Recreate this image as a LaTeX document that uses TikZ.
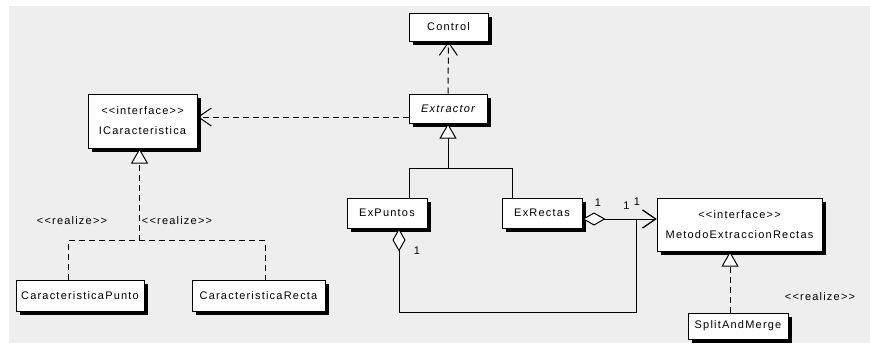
\documentclass[tikz,border=0pt]{standalone}
\usepackage{fontspec}
\setmainfont{Liberation Sans}
\newfontfamily\umlfont[LetterSpace=11]{Liberation Sans}
\usetikzlibrary{arrows.meta,shadows,calc}
\definecolor{canvas}{HTML}{EEEEEE}

\begin{document}
\begin{tikzpicture}[x=1pt,y=-1pt,
  every node/.style={font=\umlfont\fontsize{11pt}{20pt}\selectfont, inner sep=0pt},
  umlbox/.style={draw=black, line width=1pt, fill=white, align=center,
    drop shadow={shadow xshift=3.5pt, shadow yshift=-3.5pt, fill=black, opacity=1}},
  lbl/.style={text=black},
  conn/.style={draw=black, line width=1pt},
  dep/.style={conn, dash pattern=on 6pt off 4pt, -{Straight Barb[length=13pt,width=18pt,line width=1pt]}},
  gen/.style={conn, -{Triangle[length=15pt,width=17pt,fill=white,line width=1pt]}},
  real/.style={gen, dash pattern=on 6pt off 4pt},
  realline/.style={conn, dash pattern=on 6pt off 4pt},
  aggr/.style={conn, {Diamond[length=23pt,width=13pt,fill=white,line width=1pt]}-{Straight Barb[length=13pt,width=18pt,line width=1pt]}}
]
\useasboundingbox (0,0) rectangle (870,343);
\fill[canvas] (9,6) rectangle (870,343);

% classes and interfaces
\node[umlbox, minimum width=79pt, minimum height=28pt] (control) at (448.5,27) {Control};
\node[umlbox, minimum width=78pt, minimum height=29pt] (extractor) at (448,108.5) {\itshape Extractor};
\node[umlbox, minimum width=109pt, minimum height=54pt] (icar) at (142.5,121) {<<interface>>\\ICaracteristica};
\node[umlbox, minimum width=80pt, minimum height=30pt] (expuntos) at (387,213) {ExPuntos};
\node[umlbox, minimum width=80pt, minimum height=30pt] (exrectas) at (542,213) {ExRectas};
\node[umlbox, minimum width=165pt, minimum height=53pt] (metodo) at (739.5,224.5) {<<interface>>\\MetodoExtraccionRectas};
\node[umlbox, minimum width=128pt, minimum height=31pt] (cpunto) at (80,295.5) {CaracteristicaPunto};
\node[umlbox, minimum width=133pt, minimum height=31pt] (crecta) at (258.5,295.5) {CaracteristicaRecta};
\node[umlbox, minimum width=100pt, minimum height=26pt] (split) at (738,326) {SplitAndMerge};

% dependencies of Extractor
\draw[dep] (extractor.north) -- (control.south);
\coordinate (e1) at ([yshift=-8.5pt]extractor.west);
\draw[dep] (e1) -- (e1 -| icar.east);

% generalization towards Extractor
\coordinate (g) at ([yshift=-45pt]extractor.south);
\draw[conn] ([xshift=22pt]expuntos.north) |- (g) -| ([xshift=-30pt]exrectas.north);
\draw[gen] (g) -- (extractor.south);

% realizations of ICaracteristica
\coordinate (ic) at ([xshift=-3pt]icar.south);
\coordinate (h) at ([yshift=-92pt]ic);
\draw[realline] ([xshift=-12pt]cpunto.north) |- (h) -| ([xshift=6.5pt]crecta.north);
\draw[real] (h) -- (ic);

% realization of MetodoExtraccionRectas
\coordinate (s1) at ([xshift=-8pt]split.north);
\draw[real] (s1) -- (s1 |- metodo.south);

% aggregations
\coordinate (a1) at ([yshift=-6pt]exrectas.east);
\coordinate (m1) at (a1 -| metodo.west);
\coordinate (j) at ([xshift=-20pt]m1);
\draw[aggr] (a1) -- (m1);
\coordinate (p1) at ([xshift=12pt]expuntos.south);
\coordinate (pb) at ([yshift=-84pt]p1);
\draw[aggr] (p1) -- (pb) -| (j) -- (m1);

% labels
\node[lbl] (r1) at (72,221) {<<realize>>};
\node[lbl] (r2) at (177,221) {<<realize>>};
\node[lbl] (r3) at (820,297) {<<realize>>};
\node[lbl] (n1) at (598,203) {1};
\node[lbl] (n2) at (626.5,206) {1};
\node[lbl] (n3) at (637,202) {1};
\node[lbl] (n4) at (417,251) {1};
\end{tikzpicture}
\end{document}
